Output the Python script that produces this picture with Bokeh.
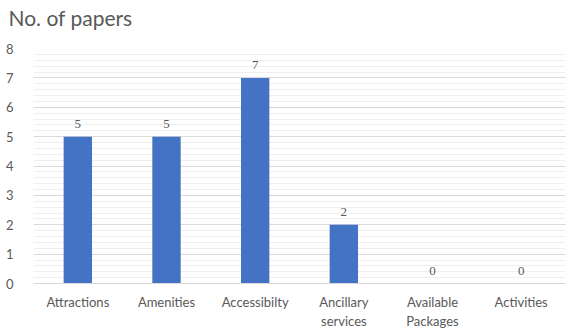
from bokeh.plotting import figure
from bokeh.models import ColumnDataSource, LabelSet, SingleIntervalTicker, Title
from bokeh.embed import file_html
from bokeh.resources import INLINE

categories = ["Attractions", "Amenities", "Accessibilty", "Ancillary\nservices", "Available\nPackages", "Activities"]
papers = [5, 5, 7, 2, 0, 0]
labels = [str(v) for v in papers]

FONT = "Lato"
GREY = "#595959"

src = ColumnDataSource(dict(cat=categories, val=papers, lab=labels))

p = figure(x_range=categories, y_range=(0, 8), width=569, height=331,
           output_backend="svg", toolbar_location=None, tools="",
           min_border_left=33, min_border_right=4, min_border_top=0, min_border_bottom=6)
p.title = Title(text="No. of papers", text_font=FONT, text_font_size="21px",
                text_color=GREY, text_font_style="normal", align="left", offset=-25)
p.title.standoff = 4
# empty spacer between the title and the plot frame
p.add_layout(Title(text=" ", text_font=FONT, text_font_size="12px", standoff=0), "above")

p.vbar(x="cat", top="val", width=0.32, source=src, fill_color="#4472c4", line_color=None)

p.add_layout(LabelSet(x="cat", y="val", text="lab", source=src, text_align="center",
                      text_baseline="bottom", y_offset=9, text_font=FONT,
                      text_font_size="13px", text_color=GREY))

p.yaxis.ticker = SingleIntervalTicker(interval=1, num_minor_ticks=5)
p.ygrid.grid_line_color = "#d9d9d9"
p.ygrid.minor_grid_line_color = "#efefef"
p.xgrid.grid_line_color = None
p.outline_line_color = None

for ax in (p.xaxis, p.yaxis):
    ax.major_tick_line_color = None
    ax.minor_tick_line_color = None
    ax.major_label_text_font = FONT
    ax.major_label_text_font_size = "13px"
    ax.major_label_text_color = GREY
p.yaxis.axis_line_color = None
p.xaxis.axis_line_color = "#d9d9d9"
p.yaxis.major_label_standoff = 14
p.xaxis.major_label_standoff = 4

open("out.html", "w").write(file_html(p, INLINE))
